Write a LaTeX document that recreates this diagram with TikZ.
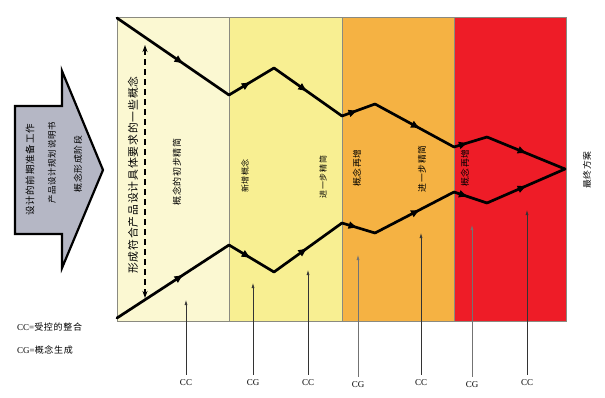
\documentclass[tikz,border=0pt]{standalone}
\usepackage{fontspec}
\setmainfont{Liberation Serif}
\newfontfamily\cjk[LetterSpace=8]{Noto Sans CJK SC}
\usetikzlibrary{arrows.meta,decorations.markings}
\definecolor{colA}{HTML}{FBF8D2}
\definecolor{colB}{HTML}{F8EF92}
\definecolor{colC}{HTML}{F5B243}
\definecolor{colD}{HTML}{EE1C27}
\definecolor{arrowgray}{HTML}{B5B7C5}
\definecolor{edgegray}{HTML}{8A8A80}
\begin{document}
\begin{tikzpicture}[x=1pt,y=-1pt,
  flow/.style={line width=2.7pt,line cap=round,black},
  midarrow/.style={postaction={decorate,decoration={markings,
     mark=at position #1 with {\arrow{Latex[length=10pt,width=8pt]}}}}},
  midarrow/.default=0.55,
  vlabel/.style={rotate=90,inner sep=0pt,font=\cjk\fontsize{#1}{#1}\selectfont},
  vlabel/.default=8,
  thinarrow/.style={line width=0.6pt,draw=black!80,-{Latex[length=5pt,width=3pt]}},
  cclabel/.style={font=\fontsize{9}{10}\selectfont,inner sep=2pt},
  legend/.style={font=\fontsize{9}{11}\selectfont,anchor=west,inner sep=0pt}
]
\useasboundingbox (0,0) rectangle (605,397);
\fill[white] (0,0) rectangle (605,397);

% columns
\fill[colA] (117,17) rectangle (229,321);
\fill[colB] (229,17) rectangle (342,321);
\fill[colC] (342,17) rectangle (454,321);
\fill[colD] (454,17) rectangle (566,321);
\draw[edgegray,line width=0.6pt] (117,17) rectangle (566,321);
\draw[edgegray,line width=0.6pt] (229,17) -- (229,321) (342,17) -- (342,321) (454,17) -- (454,321);

% big left arrow
\draw[fill=arrowgray,line width=2.2pt,line join=miter]
  (15,106) -- (62,106) -- (62,71) -- (103,170) -- (62,268) -- (62,234) -- (15,234) -- cycle;
\node[vlabel=9.5] (a1) at (30,170) {设计的前期准备工作};
\node[vlabel=8.5] (a2) at (52,163) {产品设计规划说明书};
\node[vlabel=8.8] (a3) at (78,164) {概念形成阶段};

% vertices
\coordinate (t0) at (117,18);
\coordinate (t1) at (229,95);
\coordinate (t2) at (274,68);
\coordinate (t3) at (342,116);
\coordinate (t4) at (375,104);
\coordinate (t5) at (454,147);
\coordinate (t6) at (487,137);
\coordinate (fin) at (565,169);
\coordinate (b0) at (117,318);
\coordinate (b1) at (229,245);
\coordinate (b2) at (274,272);
\coordinate (b3) at (342,223);
\coordinate (b4) at (375,233);
\coordinate (b5) at (454,192);
\coordinate (b6) at (487,203);

\draw[flow,midarrow=0.6] (t0) -- (t1);
\draw[flow,midarrow=0.5] (t1) -- (t2);
\draw[flow,midarrow=0.5] (t2) -- (t3);
\draw[flow,midarrow=0.5] (t3) -- (t4);
\draw[flow,midarrow=0.58] (t4) -- (t5);
\draw[flow,midarrow=0.45] (t5) -- (t6);
\draw[flow,midarrow=0.52] (t6) -- (fin);
\draw[flow,midarrow=0.6] (b0) -- (b1);
\draw[flow,midarrow=0.5] (b1) -- (b2);
\draw[flow,midarrow=0.5] (b2) -- (b3);
\draw[flow,midarrow=0.5] (b3) -- (b4);
\draw[flow,midarrow=0.58] (b4) -- (b5);
\draw[flow,midarrow=0.45] (b5) -- (b6);
\draw[flow,midarrow=0.52] (b6) -- (fin);

% dashed double arrow
\coordinate (dtop) at (145,45);
\coordinate (dbot) at (145,298);
\draw[line width=1.3pt,dash pattern=on 6pt off 4pt,{Stealth[length=7pt,width=5pt]}-{Stealth[length=7pt,width=5pt]}] (dtop) -- (dbot);

% column texts
\node[vlabel=10.8] (x1) at (133,175) {形成符合产品设计具体要求的一些概念};
\node[vlabel=9] (x2) at (177,172) {概念的初步精简};
\node[vlabel=8] (x3) at (245,176) {新增概念};
\node[vlabel=8] (x4) at (323,177) {进一步精简};
\node[vlabel=8.8] (x5) at (357,168) {概念再增};
\node[vlabel=8.8] (x6) at (422,169) {进一步精简};
\node[vlabel=8.8] (x7) at (465,168) {概念再增};
\node[vlabel=8.8] (x8) at (587,170) {最终方案};

% bottom labels and arrows
\node[cclabel] (c1) at (186,383) {CC};
\node[cclabel] (c2) at (253,383) {CG};
\node[cclabel] (c3) at (308,383) {CC};
\node[cclabel] (c4) at (358,385) {CG};
\node[cclabel] (c5) at (421,383) {CC};
\node[cclabel] (c6) at (472,385) {CG};
\node[cclabel] (c7) at (527,383) {CC};
\coordinate (p1) at (186,300);
\coordinate (p2) at (253,283);
\coordinate (p3) at (308,270);
\coordinate (p4) at (358,255);
\coordinate (p5) at (421,233);
\coordinate (p6) at (472,225);
\coordinate (p7) at (527,210);
\draw[thinarrow] (c1.north) ++(0,-3) -- (p1);
\draw[thinarrow] (c2.north) ++(0,-3) -- (p2);
\draw[thinarrow] (c3.north) ++(0,-3) -- (p3);
\draw[thinarrow,draw=black!55] (c4.north) ++(0,-3) -- (p4);
\draw[thinarrow] (c5.north) ++(0,-3) -- (p5);
\draw[thinarrow,draw=black!55] (c6.north) ++(0,-3) -- (p6);
\draw[thinarrow] (c7.north) ++(0,-3) -- (p7);

% legend
\node[legend] (g1) at (17,327) {CC={\cjk 受控的整合}};
\node[legend] (g2) at (17,350) {CG={\cjk 概念生成}};
\end{tikzpicture}
\end{document}
